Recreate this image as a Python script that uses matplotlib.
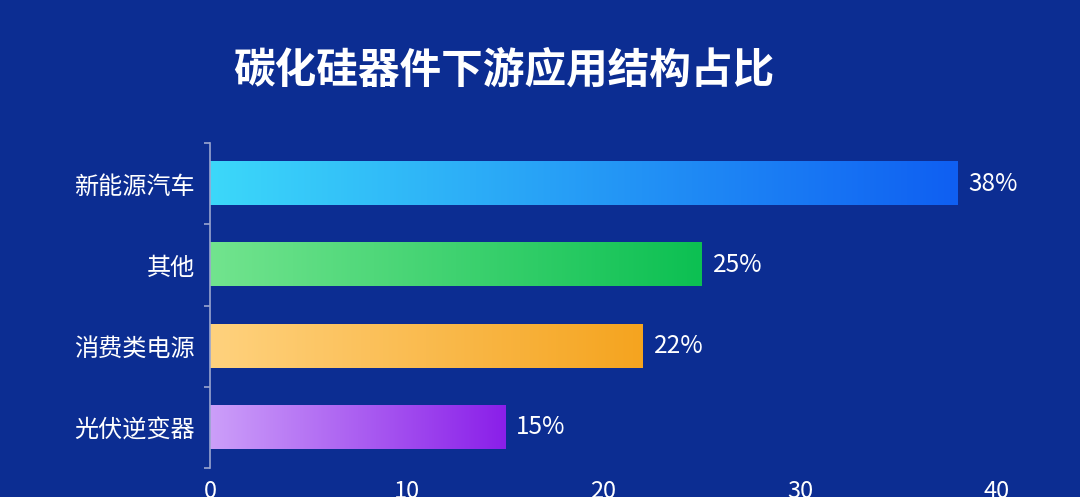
import numpy as np
import matplotlib
matplotlib.use("Agg")
import matplotlib.pyplot as plt
from matplotlib.colors import LinearSegmentedColormap

plt.rcParams['font.family'] = ['Noto Sans CJK SC', 'DejaVu Sans']

title = "碳化硅器件下游应用结构占比"
categories = ["新能源汽车", "其他", "消费类电源", "光伏逆变器"]
values = [38, 25, 22, 15]
value_labels = ["38%", "25%", "22%", "15%"]
start_colors = ["#3cd8fa", "#72e48e", "#ffd27e", "#cc9ff9"]
end_colors = ["#0f5ff2", "#0cc052", "#f5a41f", "#8a1fe9"]
xticks = [0, 10, 20, 30, 40]

BG = "#0c2d92"
W, H = 1080, 497
fig = plt.figure(figsize=(W / 100, H / 100), dpi=100, facecolor=BG)
ax = fig.add_axes([210 / W, 29 / H, (997 - 210) / W, (468 - 143) / H], facecolor=BG)

bar_h = 0.53
grad = np.linspace(0, 1, 256).reshape(1, -1)
for i, (v, c0, c1, lab) in enumerate(zip(values, start_colors, end_colors, value_labels)):
    cmap = LinearSegmentedColormap.from_list(f"g{i}", [c0, c1])
    ax.imshow(grad, cmap=cmap, aspect="auto", interpolation="bicubic",
              extent=[0, v, i + bar_h / 2, i - bar_h / 2], zorder=2)
    ax.text(v + 0.55, i, lab, color="white", fontsize=17.5, va="center", ha="left",
            zorder=3)

ax.set_xlim(0, 40)
ax.set_ylim(len(categories) - 0.5, -0.5)
ax.set_xticks(xticks)
ax.set_xticklabels([str(t) for t in xticks])
ax.set_yticks(range(len(categories)))
ax.set_yticklabels(categories)
ax.set_yticks(np.arange(-0.5, len(categories), 1.0), minor=True)

ax.tick_params(axis="x", length=0, colors="white", labelsize=17, pad=9)
ax.tick_params(axis="y", which="major", length=0, colors="white", labelsize=17.4, pad=11)
ax.tick_params(axis="y", which="minor", length=4.5, width=1.2, color="#9aa6d0", direction="out")

for s in ["top", "right", "bottom"]:
    ax.spines[s].set_visible(False)
ax.spines["left"].set_color("#9aa6d0")
ax.spines["left"].set_linewidth(1.2)

fig.text(504 / W, 1 - 71 / H, title, color="white", fontsize=30, fontweight="bold",
         ha="center", va="center")

fig.savefig("out.png", dpi=100, facecolor=BG)
